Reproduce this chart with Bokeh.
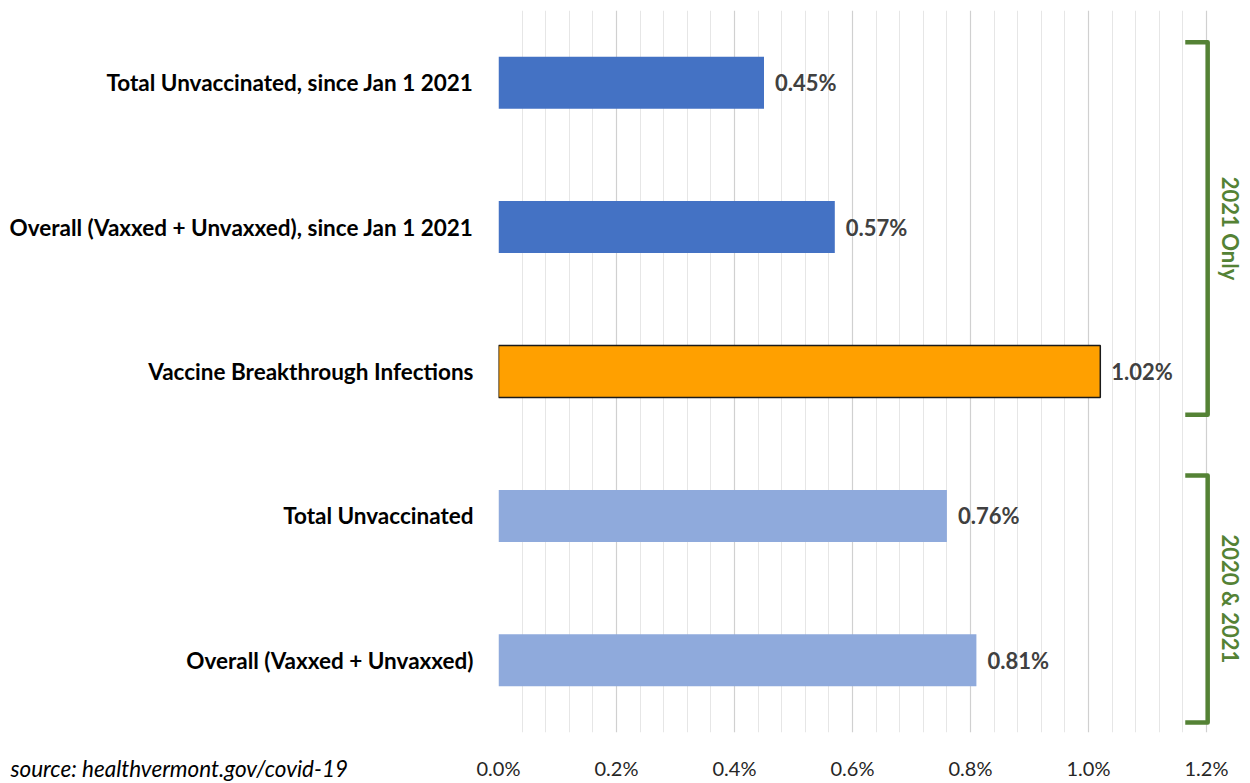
import math
from bokeh.plotting import figure
from bokeh.models import ColumnDataSource, FixedTicker, Label, Range1d
from bokeh.core.properties import value
from bokeh.embed import file_html
from bokeh.resources import INLINE

# ---- data ----
categories = [
    "Total Unvaccinated, since Jan 1 2021",
    "Overall (Vaxxed + Unvaxxed), since Jan 1 2021",
    "Vaccine Breakthrough Infections",
    "Total Unvaccinated",
    "Overall (Vaxxed + Unvaxxed)",
]
rates = [0.45, 0.57, 1.02, 0.76, 0.81]
value_labels = ["0.45%", "0.57%", "1.02%", "0.76%", "0.81%"]
bar_colors = ["#4472C4", "#4472C4", "#FFA000", "#8FAADC", "#8FAADC"]
bar_outlines = [None, None, "#1a1a1a", None, None]
x_ticks = [0.0, 0.2, 0.4, 0.6, 0.8, 1.0, 1.2]
x_tick_labels = ["0.0%", "0.2%", "0.4%", "0.6%", "0.8%", "1.0%", "1.2%"]
group_labels = ["2021 Only", "2020 & 2021"]
group_first = [0, 3]   # index of first category in group
group_last = [2, 4]    # index of last category in group
source_text = "source:  healthvermont.gov/covid-19"

FONT = "Lato"
GREEN = "#548235"

n = len(categories)
ypos = [n - 1 - i for i in range(n)]

src = ColumnDataSource(dict(
    y=ypos, rate=rates, color=bar_colors, lbl=value_labels,
    line=[c if c else col for c, col in zip(bar_outlines, bar_colors)],
    lw=[1.5 if c else 0 for c in bar_outlines],
))

p = figure(width=1246, height=782, output_backend="svg", toolbar_location=None,
           x_range=Range1d(0, 1.2678), y_range=Range1d(-0.5, n - 0.5),
           min_border_left=498, min_border_right=0, min_border_top=10,
           min_border_bottom=48)
p.outline_line_color = None
p.background_fill_color = "white"
p.border_fill_color = "white"

p.hbar(y="y", right="rate", left=0, height=0.36, fill_color="color",
       line_color="line", line_width="lw", source=src)

p.text(x="rate", y="y", text="lbl", x_offset=11, text_align="left",
       text_baseline="middle", text_font=value(FONT), text_font_size="22px",
       text_font_style="bold", text_color="#404040", source=src)

# axes
minor = [round(i * 0.04, 2) for i in range(31) if i % 5 != 0]
p.xaxis.ticker = FixedTicker(ticks=x_ticks, minor_ticks=minor)
p.xaxis.major_label_overrides = {t: l for t, l in zip(x_ticks, x_tick_labels)}
p.xaxis.axis_line_color = None
p.xaxis.major_tick_line_color = None
p.xaxis.minor_tick_line_color = None
p.xaxis.major_tick_out = 0
p.xaxis.minor_tick_out = 0
p.xaxis.major_label_standoff = -4
p.xaxis.major_label_text_font = FONT
p.xaxis.major_label_text_font_size = "20px"
p.xaxis.major_label_text_color = "#262626"

p.yaxis.ticker = FixedTicker(ticks=ypos)
p.yaxis.major_label_overrides = {y: c for y, c in zip(ypos, categories)}
p.yaxis.axis_line_color = None
p.yaxis.major_tick_line_color = None
p.yaxis.minor_tick_line_color = None
p.yaxis.major_tick_out = 0
p.yaxis.major_label_standoff = 25
p.yaxis.major_label_text_font = FONT
p.yaxis.major_label_text_font_size = "22.5px"
p.yaxis.major_label_text_font_style = "bold"
p.yaxis.major_label_text_color = "#000000"

p.ygrid.grid_line_color = None
p.xgrid.grid_line_color = "#d0d0d0"
p.xgrid.grid_line_width = 1.2
p.xgrid.minor_grid_line_color = "#e6e6e6"
p.xgrid.minor_grid_line_width = 1

# brackets
for lbl, a, b in zip(group_labels, group_first, group_last):
    ytop = (n - 1 - a) + 0.28
    ybot = (n - 1 - b) - (0.43 if b == n - 1 else 0.30)
    xs = [1.164, 1.202, 1.202, 1.164]
    ys = [ytop, ytop, ybot, ybot]
    p.line(xs, ys, line_color=GREEN, line_width=4.5, line_join="round")
    p.text(x=[1.241], y=[(ytop + ybot) / 2], text=[lbl], angle=-math.pi / 2,
           text_align="center", text_baseline="middle", text_font=value(FONT),
           text_font_size="22px", text_font_style="bold", text_color=GREEN)

# source note: placed in the bottom side panel (not clipped to the frame)
note = Label(x=-488, y=-9, x_units="screen", y_units="screen",
             text=source_text, text_font=FONT,
             text_font_size="22.5px", text_font_style="italic",
             text_color="#000000", text_baseline="middle")
p.below = [note] + list(p.below)

open("out.html", "w").write(file_html(p, INLINE))
